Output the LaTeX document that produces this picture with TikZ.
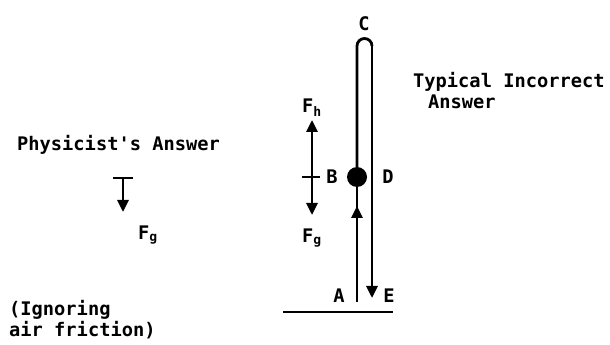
\documentclass[tikz,border=0pt]{standalone}
\usepackage{fontspec}
\setmonofont{DejaVu Sans Mono}
\usetikzlibrary{arrows.meta, positioning}
\tikzset{
	trail/.style ={line width=2.8pt},
	force/.style ={line width=2.8pt, -{Triangle[length=12pt,width=11pt]}},
	ball/.style  ={circle, fill=black, minimum size=20pt, inner sep=0pt},
	lbl/.style   ={font=\ttfamily\bfseries\fontsize{18.7}{21}\selectfont, inner sep=1pt, align=left},
}
\begin{document}
\begin{tikzpicture}[x=1pt, y=1pt]
	\useasboundingbox (0,0) rectangle (610,345);
	% physicist's answer
	\node[lbl, anchor=west] (phys) at (16,200) {Physicist's Answer};
	\coordinate (barL) at (113,167); \coordinate (barR) at (133,167);
	\coordinate (gTop) at (123,167); \coordinate (gTip) at (123,133);
	\draw[trail] (barL) -- (barR);
	\draw[force] (gTop) -- (gTip);
	\node[lbl] (fgL) at (148,110) {F\textsubscript{g}};
	\node[lbl, anchor=west] (ign) at (8,25) {(Ignoring\\air friction)};
	% typical incorrect answer
	\node[lbl, anchor=west] (typ) at (412,254) {Typical Incorrect\\\hspace*{0.8em}Answer};
	\node[ball] (ballB) at (357,168) {};
	\coordinate (aBase) at (357,43);
	\coordinate (upTip) at (357,139);
	\coordinate (loopL) at (357,299);
	\coordinate (eTip) at (372,47);
	\draw[trail] (aBase) -- (ballB);
	\draw[force] (aBase) -- (upTip);
	\draw[trail] (ballB) -- (loopL) arc[start angle=180, end angle=0, radius=7.5];
	\draw[force] (372,299) -- (eTip);
	\draw[trail] (283,33) coordinate (gndL) -- (393,33) coordinate (gndR);
	\node[lbl] (lblC) at (364,321) {C};
	\node[lbl] (lblB) at (332,168) {B};
	\node[lbl] (lblD) at (388,168) {D};
	\node[lbl] (lblA) at (339,49) {A};
	\node[lbl] (lblE) at (389,49) {E};
	% forces on the ball
	\coordinate (fMid) at (312,168);
	\coordinate (fhTip) at (312,225); \coordinate (fgTip) at (312,130);
	\draw[force] (fMid) -- (fhTip);
	\draw[force] (fMid) -- (fgTip);
	\draw[trail] (302,168) coordinate (tickL) -- (320,168) coordinate (tickR);
	\node[lbl] (fhR) at (312,237) {F\textsubscript{h}};
	\node[lbl] (fgR) at (312,107) {F\textsubscript{g}};
\end{tikzpicture}
\end{document}
